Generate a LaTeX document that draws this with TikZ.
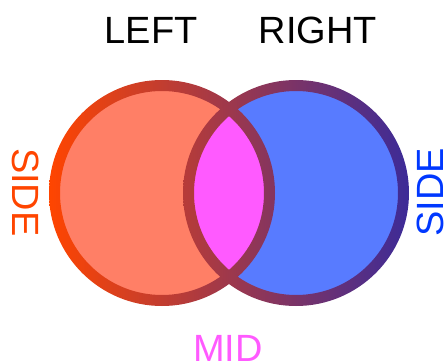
\documentclass[tikz,border=0pt]{standalone}
\usepackage{fontspec}
\setmainfont{Liberation Sans}
\definecolor{leftfill}{HTML}{FF7F66}
\definecolor{rightfill}{HTML}{587BFF}
\definecolor{midfill}{HTML}{FF5AFF}
\definecolor{leftring}{HTML}{FF4500}
\definecolor{rightring}{HTML}{3C2B98}
\definecolor{sideblue}{HTML}{0038FF}
\begin{document}
\begin{tikzpicture}[txt/.style = {font=\fontsize{27}{32}\selectfont, inner sep=0pt}]
            \useasboundingbox (0,0) rectangle (11.2,9.05);
            \coordinate (L) at (4.05,4.225);
            \coordinate (R) at (7.4,4.225);

            \fill[leftfill] (L) circle (2.6);
            \fill[rightfill] (R) circle (2.6);
            \begin{scope}
                \clip (L) circle (2.6);
                \fill[midfill] (R) circle (2.6);
            \end{scope}
            \shade[even odd rule, left color=leftring, right color=leftring!37!rightring] (L) circle (2.825) (L) circle (2.55);
            \shade[even odd rule, left color=leftring!63!rightring, right color=rightring] (R) circle (2.825) (R) circle (2.55);

            \node[txt, anchor=base] (left) at (3.775,7.975) {LEFT};
            \node[txt, anchor=base] (right) at (7.95,7.975) {RIGHT};
            \node[txt, anchor=base, text=midfill] (mid) at (5.7,0.025) {MID};
            \node[txt, rotate=-90, text=leftring] (sideL) at (0.64,4.24) {SIDE};
            \node[txt, rotate=90, text=sideblue] (sideR) at (10.76,4.24) {SIDE};
        \end{tikzpicture}
\end{document}
